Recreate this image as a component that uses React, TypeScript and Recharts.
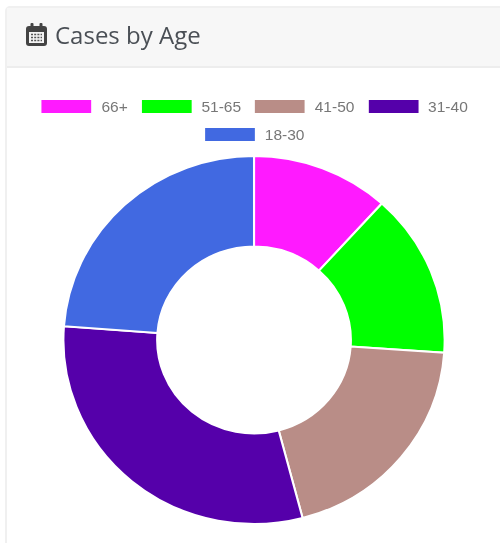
import React from 'react';
import { PieChart, Pie, Cell, Legend } from 'recharts';

const ageGroups = ['66+', '51-65', '41-50', '31-40', '18-30'];
const caseCounts = [117, 144, 198, 303, 238];
const sliceColors = ['#ff1aff', '#00ff00', '#b98d87', '#5500aa', '#4169e1'];

const chartData = ageGroups.map((name, i) => ({ name, value: caseCounts[i] }));

const LegendRows = () => (
  <div style={{ display: 'flex', flexWrap: 'wrap', justifyContent: 'center', width: 460, margin: '0 auto', rowGap: 10, columnGap: 13.5 }}>
    {ageGroups.map((name, i) => (
      <div key={name} style={{ display: 'flex', alignItems: 'center', height: 18 }}>
        <span style={{ width: 48, height: 13, background: sliceColors[i], marginRight: 9.5 }} />
        <span style={{ font: '15px "Liberation Sans", Arial, sans-serif', color: '#777' }}>{name}</span>
      </div>
    ))}
  </div>
);

const CalendarIcon = () => (
  <svg width="24" height="26" viewBox="0 0 24 26" style={{ position: 'absolute', left: 25, top: 22 }}>
    <rect x="1" y="4" width="21" height="20" rx="3" fill="#444" />
    <rect x="4" y="10" width="15" height="11" fill="#f4f4f4" />
    <rect x="5.5" y="1" width="3" height="6" rx="1" fill="#444" />
    <rect x="14.5" y="1" width="3" height="6" rx="1" fill="#444" />
    <path d="M6 12.5h11M6 15.5h11M6 18.5h11" stroke="#555" strokeWidth="1.6" strokeDasharray="2 1.2" />
  </svg>
);

export default function App() {
  return (
    <div style={{ position: 'absolute', left: 0, top: 0, width: 500, height: 543, background: '#fff', overflow: 'hidden', filter: 'blur(0.4px)' }}>
      <div style={{ position: 'absolute', left: 5, top: 6, width: 520, height: 560, border: '2px solid #f0f0f0', borderRadius: 5, boxSizing: 'border-box' }} />
      <div style={{ position: 'absolute', left: 7, top: 8, width: 500, height: 58, background: '#f7f7f7', borderBottom: '2px solid #ededed' }} />
      <CalendarIcon />
      <div style={{ position: 'absolute', left: 55, top: 18, font: '24px "Open Sans", sans-serif', color: '#4a4f55' }}>Cases by Age</div>
      <div style={{ position: 'absolute', left: 0, top: 0, width: 482, height: 543, transform: 'scaleX(1.036)', transformOrigin: 'left top' }}>
        <PieChart width={482} height={543} margin={{ top: 0, right: 0, bottom: 0, left: 0 }}>
          <Legend verticalAlign="top" content={<LegendRows />} wrapperStyle={{ top: 97, left: 5, width: 482 }} />
          <Pie
            data={chartData}
            dataKey="value"
            nameKey="name"
            cx={245.2}
            cy={294}
            outerRadius={184}
            innerRadius={93.5}
            startAngle={90}
            endAngle={-270}
            stroke="#fff"
            strokeWidth={2}
            isAnimationActive={false}
          >
            {ageGroups.map((name, i) => (
              <Cell key={name} fill={sliceColors[i]} />
            ))}
          </Pie>
        </PieChart>
      </div>
    </div>
  );
}
